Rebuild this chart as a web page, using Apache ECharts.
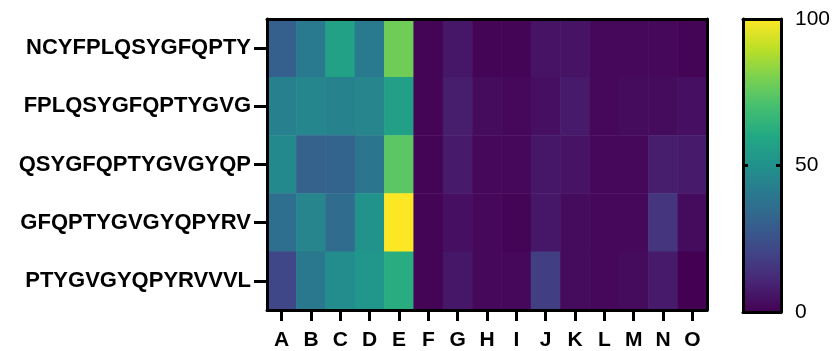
<!DOCTYPE html>
<html>
<head>
<meta charset="utf-8">
<script src="https://cdn.jsdelivr.net/npm/echarts@6/dist/echarts.min.js"></script>
<style>
  html, body { margin: 0; padding: 0; background: #fff; }
  #chart { width: 837px; height: 351px; }
</style>
</head>
<body>
<div id="chart"></div>
<script>
// Peptide rows (top to bottom) and positions across the plate
const peptides = ['NCYFPLQSYGFQPTY', 'FPLQSYGFQPTYGVG', 'QSYGFQPTYGVGYQP', 'GFQPTYGVGYQPYRV', 'PTYGVGYQPYRVVVL'];
const positions = ['A', 'B', 'C', 'D', 'E', 'F', 'G', 'H', 'I', 'J', 'K', 'L', 'M', 'N', 'O'];

// Signal per peptide, one value per position A..O
const ncyfplqsygfqpty = [30, 41, 57, 41, 78, 1, 6, 1, 1, 5, 5, 2, 2, 2, 1];
const fplqsygfqptygvg = [43, 46, 44, 45, 56, 1, 8, 3, 2, 4, 7, 2, 3, 3, 4];
const qsygfqptygvgyqp = [47, 31, 32, 39, 74, 1, 7, 2, 2, 6, 5, 2, 2, 8, 7];
const gfqptygvgyqpyrv = [36, 45, 35, 51, 100, 1, 4, 2, 1, 6, 3, 2, 2, 15, 3];
const ptygvgyqpyrvvvl = [21, 40, 48, 52, 62, 1, 6, 2, 2, 18, 3, 2, 3, 7, 0];

// Colour scale ticks
const scaleTicks = [0, 50, 100];

const rows = [ncyfplqsygfqpty, fplqsygfqptygvg, qsygfqptygvgyqp, gfqptygvgyqpyrv, ptygvgyqpyrvvvl];
const cells = [];
rows.forEach((vals, r) => vals.forEach((v, c) => cells.push([c, r, v])));

const viridis = ['#440154', '#482475', '#414487', '#355f8d', '#2a788e', '#21918c',
                 '#22a884', '#44bf70', '#7ad151', '#bddf26', '#fde725'];

const FONT = '"Liberation Sans", Arial, sans-serif';
const plot = { left: 267, top: 19, width: 440, height: 293 };
const bar = { left: 743, top: 19, width: 38, height: 293 };
const frame = { show: true, onZero: false, lineStyle: { color: '#000', width: 3 } };

const chart = echarts.init(document.getElementById('chart'), null, { renderer: 'canvas' });
chart.setOption({
  animation: false,
  backgroundColor: '#fff',
  grid: [
    Object.assign({}, plot),
    Object.assign({}, bar)
  ],
  xAxis: [
    {
      type: 'category', data: positions, gridIndex: 0, position: 'bottom', z: 10,
      axisLine: frame,
      axisTick: { show: true, alignWithLabel: true, length: 11, lineStyle: { color: '#000', width: 3 } },
      axisLabel: { color: '#000', fontFamily: FONT, fontWeight: 'bold', fontSize: 21, margin: 20 },
      splitLine: { show: false }
    },
    {
      type: 'category', data: positions, gridIndex: 0, position: 'top', z: 10,
      axisLine: frame, axisTick: { show: false }, axisLabel: { show: false }
    },
    {
      type: 'value', gridIndex: 1, min: 0, max: 1, position: 'bottom', z: 10,
      axisLine: frame, axisTick: { show: false }, axisLabel: { show: false }, splitLine: { show: false }
    },
    {
      type: 'value', gridIndex: 1, min: 0, max: 1, position: 'top', z: 10,
      axisLine: frame, axisTick: { show: false }, axisLabel: { show: false }, splitLine: { show: false }
    }
  ],
  yAxis: [
    {
      type: 'category', data: peptides, gridIndex: 0, inverse: true, position: 'left', z: 10,
      axisLine: frame,
      axisTick: { show: true, alignWithLabel: true, length: 13, lineStyle: { color: '#000', width: 3 } },
      axisLabel: { color: '#000', fontFamily: FONT, fontWeight: 'bold', fontSize: 22, margin: 16 },
      splitLine: { show: false }
    },
    {
      type: 'category', data: peptides, gridIndex: 0, inverse: true, position: 'right', z: 10,
      axisLine: frame, axisTick: { show: false }, axisLabel: { show: false }
    },
    {
      type: 'value', gridIndex: 1, min: 0, max: 100, interval: 50, position: 'right', z: 10,
      axisLine: frame,
      axisTick: { show: true, inside: true, length: 5, lineStyle: { color: '#000', width: 3 } },
      axisLabel: { color: '#000', fontFamily: FONT, fontSize: 21, margin: 14,
                   formatter: v => scaleTicks.includes(v) ? String(v) : '' },
      splitLine: { show: false }
    },
    {
      type: 'value', gridIndex: 1, min: 0, max: 100, interval: 50, position: 'left', z: 10,
      axisLine: frame,
      axisTick: { show: true, inside: true, length: 5, lineStyle: { color: '#000', width: 3 } },
      axisLabel: { show: false }, splitLine: { show: false }
    }
  ],
  visualMap: {
    type: 'continuous',
    min: 0, max: 100,
    seriesIndex: 0,
    calculable: false,
    orient: 'vertical',
    left: bar.left, top: bar.top,
    itemWidth: bar.width, itemHeight: bar.height,
    padding: 0,
    text: null,
    showLabel: false,
    z: 1,
    inRange: { color: viridis }
  },
  series: [
    {
      type: 'heatmap',
      xAxisIndex: 0, yAxisIndex: 0,
      data: cells,
      itemStyle: { borderWidth: 0 },
      emphasis: { disabled: true }
    },
    {
      type: 'line', xAxisIndex: 2, yAxisIndex: 2, data: [], silent: true
    },
    {
      type: 'line', xAxisIndex: 3, yAxisIndex: 3, data: [], silent: true
    }
  ]
});
</script>
</body>
</html>
